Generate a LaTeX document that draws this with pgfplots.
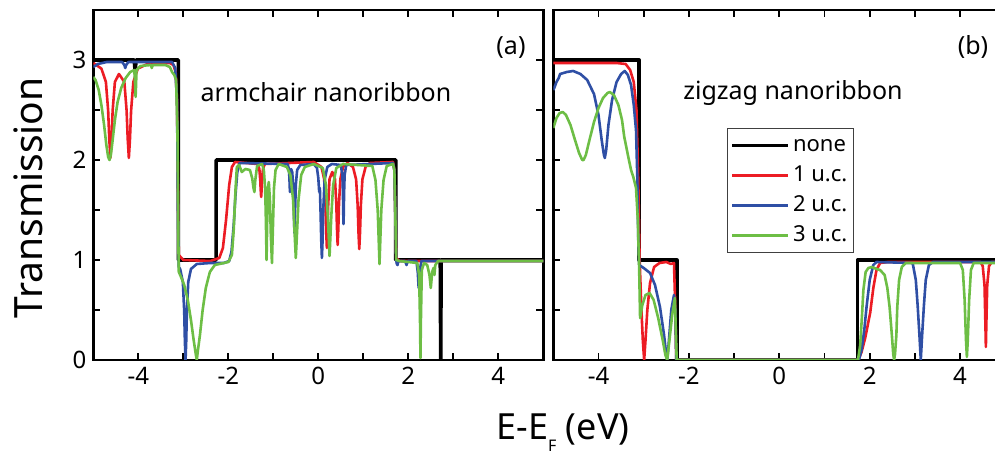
\documentclass[border=0pt]{standalone}
\usepackage{fontspec}
\setmainfont{Noto Sans}
\usepackage{pgfplots}
\pgfplotsset{compat=1.18}

\definecolor{cred}{HTML}{EC1C24}
\definecolor{cblue}{HTML}{2F4FA5}
\definecolor{cgreen}{HTML}{6DBE45}

\pgfplotsset{
  panel/.style={
    scale only axis, height=175pt, anchor=south west,
    xmin=-5, xmax=5, ymin=0, ymax=3.5,
    xtick={-4,-2,0,2,4}, minor xtick={-3,-1,1,3},
    ytick={0,1,2,3}, minor ytick={0.5,1.5,2.5},
    tick align=inside, major tick length=3.5pt, minor tick length=3.5pt,
    tick style={black, line width=0.9pt},
    axis line style={line width=1.4pt},
    tick label style={font=\fontsize{12}{14}\selectfont},
    /pgf/number format/assume math mode=true,
  },
  none/.style={black, line width=1.8pt, line join=round},
  uc/.style={line width=1.3pt, line join=round},
}

\begin{document}
\begin{tikzpicture}
% (a) armchair
\begin{axis}[panel, at={(46.65pt,47pt)}, width=225pt]
\addplot[none] coordinates {
 (-5,3) (-4.09,3) (-4.07,2.88) (-4.05,3) (-3.11,3) (-3.11,1) (-2.27,1) (-2.27,2)
 (1.72,2) (1.72,1) (2.71,1) (2.72,0) (2.73,1) (5,1)
};
\addplot[uc, cred] coordinates {
 (-5,2.97) (-4.82,2.914) (-4.72,2.78) (-4.67,2.495) (-4.645,2.21) (-4.62,2.02) (-4.595,2.21)
 (-4.57,2.495) (-4.52,2.78) (-4.43,2.86) (-4.31,2.78) (-4.26,2.495) (-4.235,2.21) (-4.21,2.02)
 (-4.185,2.21) (-4.16,2.495) (-4.11,2.78) (-4.01,2.914) (-3.8,2.96) (-3.3,2.97) (-3.22,2.95)
 (-3.17,2.88) (-3.14,2.6) (-3.12,1.8) (-3.1,1.05) (-3.0,1.0) (-2.4,0.99) (-2.2,1.02) (-2.12,1.12)
 (-2.05,1.4) (-1.98,1.75) (-1.92,1.93) (-1.85,1.98) (-1.35,1.96) (-1.31,1.91) (-1.29,1.80)
 (-1.28,1.70) (-1.27,1.63) (-1.26,1.70) (-1.25,1.80) (-1.23,1.91) (-1.19,1.96) (-0.1,1.98)
 (0.07,1.93) (0.13,1.81) (0.16,1.55) (0.175,1.29) (0.19,1.12) (0.205,1.29) (0.22,1.55)
 (0.25,1.81) (0.31,1.88) (0.37,1.81) (0.40,1.565) (0.415,1.316) (0.43,1.15) (0.445,1.316)
 (0.46,1.565) (0.49,1.81) (0.55,1.93) (0.65,1.97) (0.77,1.93) (0.84,1.806) (0.875,1.545)
 (0.8925,1.28) (0.91,1.11) (0.9275,1.28) (0.945,1.545) (0.98,1.806) (1.05,1.93) (1.15,1.97)
 (1.66,1.98) (1.69,1.9) (1.71,1.5) (1.73,1.02) (1.8,0.99) (5,0.99)
};
\addplot[uc, cblue] coordinates {
 (-5,2.93) (-4.9,2.96) (-4.7,2.98) (-4.36,2.98) (-4.31,2.95) (-4.29,2.92) (-4.27,2.95)
 (-4.22,2.98) (-3.25,2.98) (-3.18,2.92) (-3.14,2.6) (-3.12,1.6) (-3.1,0.93) (-3.07,0.91)
 (-3.01,0.78) (-2.98,0.49) (-2.965,0.19) (-2.95,0.0) (-2.935,0.19) (-2.92,0.49) (-2.89,0.78)
 (-2.83,0.91) (-2.7,0.96) (-2.4,0.97) (-2.1,0.97) (-1.98,0.99) (-1.93,1.08) (-1.88,1.35)
 (-1.84,1.65) (-1.8,1.88) (-1.75,1.97) (-0.68,1.96) (-0.655,1.91) (-0.642,1.825) (-0.636,1.74)
 (-0.63,1.68) (-0.624,1.74) (-0.618,1.825) (-0.605,1.91) (-0.58,1.88) (-0.56,1.75) (-0.545,1.5)
 (-0.53,1.27) (-0.515,1.5) (-0.5,1.75) (-0.47,1.9) (-0.4,1.95) (-0.1,1.96) (-0.03,1.92)
 (0.0,1.82) (0.02,1.68) (0.035,1.72) (0.05,1.48) (0.065,1.2) (0.08,1.02) (0.095,1.2)
 (0.11,1.5) (0.14,1.8) (0.2,1.93) (0.3,1.96) (0.5,1.95) (0.535,1.85) (0.548,1.66) (0.554,1.47)
 (0.56,1.36) (0.566,1.47) (0.572,1.66) (0.585,1.85) (0.62,1.95) (1.66,1.97) (1.69,1.9)
 (1.71,1.5) (1.73,1.0) (1.745,0.96) (1.76,0.95) (1.78,0.99) (1.93,0.99) (1.96,0.95)
 (1.99,0.99) (2.18,0.99) (2.21,0.88) (2.23,0.72) (2.25,0.88) (2.29,0.99) (5,0.99)
};
\addplot[uc, cgreen] coordinates {
 (-5,2.83) (-4.95,2.8) (-4.88,2.7) (-4.82,2.55) (-4.76,2.35) (-4.71,2.15) (-4.67,2.03)
 (-4.64,2.0) (-4.61,2.05) (-4.57,2.2) (-4.52,2.4) (-4.46,2.58) (-4.38,2.72) (-4.28,2.82)
 (-4.18,2.88) (-4.09,2.9) (-4.075,2.8) (-4.065,2.68) (-4.06,2.63) (-4.05,2.75) (-4.04,2.9)
 (-3.95,2.94) (-3.72,2.95) (-3.7,2.92) (-3.68,2.95) (-3.4,2.95) (-3.3,2.93) (-3.25,2.88)
 (-3.2,2.85) (-3.16,2.8) (-3.13,2.3) (-3.11,1.2) (-3.1,0.88) (-3.05,0.83) (-2.98,0.75)
 (-2.9,0.6) (-2.83,0.4) (-2.77,0.2) (-2.72,0.05) (-2.70,0.0) (-2.68,0.08) (-2.63,0.25)
 (-2.57,0.5) (-2.5,0.72) (-2.41,0.88) (-2.3,0.95) (-2.1,0.97) (-2.0,0.98) (-1.92,1.05)
 (-1.88,1.3) (-1.84,1.7) (-1.81,1.93) (-1.76,1.95) (-1.7,1.88) (-1.62,1.91) (-1.52,1.9)
 (-1.47,1.82) (-1.44,1.72) (-1.42,1.68) (-1.40,1.8) (-1.36,1.94) (-1.25,1.96) (-1.21,1.9)
 (-1.18,1.7) (-1.165,1.4) (-1.15,1.0) (-1.135,1.4) (-1.12,1.72) (-1.1,1.78) (-1.075,1.6)
 (-1.055,1.25) (-1.03,0.97) (-1.01,1.3) (-0.985,1.72) (-0.95,1.9) (-0.88,1.96) (-0.7,1.93)
 (-0.62,1.85) (-0.56,1.6) (-0.53,1.3) (-0.50,1.02) (-0.47,1.3) (-0.44,1.6) (-0.38,1.85)
 (-0.3,1.93) (-0.1,1.96) (0.1,1.92) (0.17,1.75) (0.21,1.45) (0.25,1.04) (0.29,1.45)
 (0.33,1.75) (0.4,1.92) (0.55,1.96) (1.2,1.94) (1.27,1.8) (1.32,1.5) (1.36,0.96) (1.40,1.5)
 (1.45,1.8) (1.52,1.94) (1.66,1.96) (1.69,1.9) (1.71,1.5) (1.73,1.0) (1.8,0.99) (2.2,0.97)
 (2.24,0.85) (2.26,0.4) (2.27,0.02) (2.28,0.4) (2.3,0.9) (2.35,0.97) (2.42,0.95) (2.47,0.85)
 (2.5,0.72) (2.53,0.88) (2.56,0.92) (2.58,0.85) (2.6,0.95) (2.66,0.99) (5,0.99)
};
\end{axis}

% (b) zigzag
\begin{axis}[panel, at={(276.65pt,47pt)}, width=226pt, yticklabels={},
  legend style={at={(0.384,0.663)}, anchor=north west, draw=black!75, line width=0.6pt,
    font=\fontsize{11}{13}\selectfont, inner xsep=1.5pt, inner ysep=1pt,
    nodes={inner sep=1.5pt, text height=9pt, text depth=3pt}},
  legend cell align=left,
  legend image code/.code={\draw[#1] (0pt,0pt) -- (28pt,0pt);},
]
\addplot[none] coordinates {
 (-5,3) (-3.1,3) (-3.1,1) (-2.27,1) (-2.27,0) (1.73,0) (1.73,1) (5,1)
};
\addplot[uc, cred] coordinates {
 (-5,2.97) (-3.6,2.97) (-3.4,2.96) (-3.3,2.9) (-3.22,2.78) (-3.16,2.5) (-3.12,1.8)
 (-3.09,1.0) (-3.05,0.5) (-3.02,0.2) (-2.99,0.0) (-2.96,0.2) (-2.92,0.5) (-2.86,0.77)
 (-2.77,0.93) (-2.65,0.97) (-2.5,0.98) (-2.4,0.96) (-2.33,0.97) (-2.3,0.5) (-2.28,0.0)
 (1.75,0.0) (1.82,0.08) (1.9,0.22) (2.01,0.47) (2.08,0.72) (2.15,0.9) (2.23,0.97) (2.4,0.98)
 (4.45,0.98) (4.50,0.94) (4.54,0.75) (4.56,0.35) (4.57,0.13) (4.58,0.35) (4.60,0.75)
 (4.64,0.94) (4.7,0.98) (5,0.98)
};
\addplot[uc, cblue] coordinates {
 (-5,2.7) (-4.97,2.73) (-4.93,2.78) (-4.88,2.82) (-4.85,2.86) (-4.7,2.88) (-4.56,2.89)
 (-4.4,2.86) (-4.25,2.8) (-4.1,2.66) (-4.0,2.45) (-3.93,2.2) (-3.88,2.05) (-3.86,2.02)
 (-3.83,2.1) (-3.78,2.35) (-3.7,2.6) (-3.6,2.78) (-3.5,2.86) (-3.42,2.89) (-3.35,2.85)
 (-3.28,2.75) (-3.22,2.55) (-3.17,2.3) (-3.14,1.8) (-3.12,1.2) (-3.1,0.95) (-3.0,0.92)
 (-2.86,0.87) (-2.75,0.75) (-2.64,0.53) (-2.55,0.25) (-2.5,0.05) (-2.48,0.0) (-2.45,0.15)
 (-2.39,0.5) (-2.33,0.65) (-2.3,0.5) (-2.28,0.0) (1.76,0.0) (1.82,0.1) (1.88,0.3) (1.93,0.53)
 (2.0,0.8) (2.08,0.95) (2.15,0.98) (2.95,0.97) (3.02,0.8) (3.06,0.55) (3.10,0.25) (3.13,0.0)
 (3.16,0.25) (3.20,0.55) (3.24,0.8) (3.31,0.95) (3.4,0.98) (5,0.98)
};
\addplot[uc, cgreen] coordinates {
 (-5,2.32) (-4.93,2.42) (-4.86,2.47) (-4.79,2.48) (-4.72,2.45) (-4.62,2.35) (-4.52,2.2)
 (-4.43,2.07) (-4.36,2.0) (-4.33,2.0) (-4.28,2.05) (-4.2,2.2) (-4.1,2.38) (-4.0,2.52)
 (-3.9,2.62) (-3.8,2.67) (-3.75,2.68) (-3.66,2.65) (-3.56,2.55) (-3.48,2.4) (-3.43,2.23)
 (-3.35,2.05) (-3.28,1.9) (-3.23,1.83) (-3.17,1.72) (-3.13,1.4) (-3.1,0.9) (-3.08,0.42)
 (-3.03,0.55) (-2.96,0.65) (-2.87,0.67) (-2.78,0.6) (-2.68,0.42) (-2.58,0.2) (-2.52,0.05)
 (-2.48,0.0) (-2.43,0.2) (-2.37,0.45) (-2.31,0.62) (-2.29,0.3) (-2.27,0.0) (1.74,0.0)
 (1.79,0.15) (1.83,0.45) (1.86,0.7) (1.91,0.88) (1.97,0.92) (2.05,0.93) (2.15,0.91)
 (2.23,0.9) (2.33,0.85) (2.39,0.72) (2.44,0.53) (2.49,0.25) (2.52,0.06) (2.54,0.0)
 (2.56,0.06) (2.59,0.25) (2.61,0.53) (2.65,0.8) (2.71,0.93) (2.8,0.97) (4.0,0.97)
 (4.06,0.9) (4.1,0.6) (4.13,0.2) (4.15,0.03) (4.17,0.2) (4.2,0.6) (4.24,0.9) (4.3,0.97) (5,0.97)
};
\legend{none, 1 u.c., 2 u.c., 3 u.c.}
\end{axis}

\node[anchor=base, font=\fontsize{12.5}{14}\selectfont] at (163pt,176.2pt) {armchair nanoribbon};
\node[anchor=base, font=\fontsize{12.5}{14}\selectfont] at (396.5pt,177pt) {zigzag nanoribbon};
\node[anchor=base, font=\fontsize{12.5}{14}\selectfont] at (255.5pt,199.5pt) {(a)};
\node[anchor=base, font=\fontsize{12.5}{14}\selectfont] at (486.5pt,199.5pt) {(b)};
\node[rotate=90, font=\fontsize{19.5}{22}\selectfont] at (14pt,128pt) {Transmission};
\node[anchor=base, font=\fontsize{18}{20}\selectfont] at (281.5pt,7pt)
  {E-E\raisebox{-6pt}{\fontsize{8}{9}\selectfont F} (eV)};

\pgfresetboundingbox
\useasboundingbox (0,0) rectangle (497.5pt,227pt);
\end{tikzpicture}
\end{document}
